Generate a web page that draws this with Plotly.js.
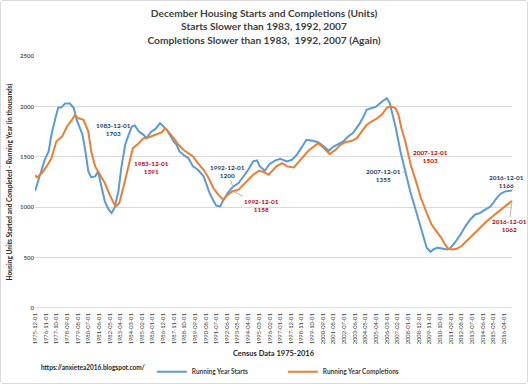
<!DOCTYPE html>
<html>
<head>
<meta charset="utf-8">
<script src="https://cdn.plot.ly/plotly-3.0.1.min.js"></script>
<style>
html,body{margin:0;padding:0;background:#fff;}
#chart{width:526px;height:382px;border:1px solid #d9d9d9;border-radius:3px;}
</style>
</head>
<body>
<div id="chart"></div>
<script>
// Running-year housing starts (thousands)
const startMonths = ['1975-12','1976-05','1976-10','1977-02','1977-05','1977-09','1977-12','1978-03','1978-07','1978-12',
'1979-04','1979-07','1979-10','1980-01','1980-04','1980-07','1980-10','1981-02','1981-05','1981-09',
'1981-12','1982-04','1982-07','1982-10','1983-02','1983-05','1983-09','1983-12','1984-04','1984-07',
'1984-11','1985-04','1985-07','1985-12','1986-04','1986-09','1986-12','1987-04','1987-07','1987-11',
'1988-02','1988-05','1988-09','1989-02','1989-07','1989-12','1990-06','1990-09','1990-12','1991-04',
'1991-07','1991-11','1992-02','1992-07','1992-12','1993-06','1993-11','1994-04','1994-09','1995-01',
'1995-04','1995-09','1996-02','1996-08','1997-01','1997-08','1998-01','1998-06','1998-11','1999-04',
'1999-10','2000-04','2000-10','2001-03','2001-08','2002-01','2002-06','2002-11','2003-04','2003-10',
'2004-03','2004-06','2004-11','2005-04','2005-10','2006-03','2006-06','2006-12','2007-05','2007-10',
'2008-03','2008-08','2009-01','2009-04','2009-08','2009-12','2010-03','2010-07','2010-12','2011-05',
'2011-08','2012-01','2012-07','2012-12','2013-05','2013-10','2014-03','2014-08','2015-02','2015-07',
'2015-12','2016-05','2016-10','2016-12'];
const startUnits = [1160,1320,1470,1555,1720,1885,1990,1990,2030,2030,
1985,1870,1800,1720,1555,1355,1296,1306,1355,1190,
1058,975,942,992,1157,1389,1620,1703,1802,1812,
1752,1719,1686,1752,1775,1835,1802,1769,1719,1653,
1620,1554,1521,1488,1405,1372,1306,1223,1141,1065,
1015,1008,1065,1141,1200,1240,1306,1372,1455,1465,
1405,1362,1430,1465,1481,1455,1471,1521,1594,1670,
1660,1646,1603,1560,1603,1627,1653,1703,1736,1818,
1901,1967,1983,2000,2050,2083,2033,1795,1554,1339,
1157,993,827,712,597,556,579,597,590,579,
590,646,729,812,877,927,942,975,1008,1075,
1131,1157,1163,1166];

// Running-year housing completions (thousands)
const complMonths = ['1975-12','1976-02','1976-07','1976-12','1977-05','1977-10','1978-04','1978-09','1979-02','1979-05',
'1979-09','1980-02','1980-07','1980-10','1981-02','1981-07','1981-12','1982-05','1982-10','1982-12',
'1983-03','1983-07','1983-12','1984-05','1984-11','1985-04','1985-09','1986-05','1986-11','1987-02',
'1987-05','1987-11','1988-04','1988-09','1989-02','1989-07','1989-12','1990-06','1990-11','1991-04',
'1991-09','1992-02','1992-07','1992-12','1993-06','1993-11','1994-04','1994-09','1995-03','1995-08',
'1996-01','1996-06','1996-09','1997-03','1997-08','1998-03','1998-08','1999-01','1999-06','1999-11',
'2000-04','2000-10','2001-04','2001-10','2002-03','2002-08','2003-03','2003-08','2004-01','2004-06',
'2004-11','2005-05','2005-10','2006-03','2006-08','2006-12','2007-03','2007-06','2007-10','2008-01',
'2008-04','2008-09','2009-02','2009-08','2010-01','2010-06','2010-11','2011-03','2011-06','2011-10',
'2012-03','2012-08','2013-01','2013-06','2013-11','2014-05','2014-10','2015-03','2015-08','2016-01',
'2016-07','2016-12'];
const complUnits = [1320,1296,1339,1405,1488,1653,1703,1802,1868,1911,
1884,1868,1752,1554,1405,1322,1240,1124,1025,1010,
1042,1190,1391,1587,1636,1686,1693,1726,1746,1785,
1759,1686,1620,1570,1537,1504,1438,1372,1289,1190,
1124,1075,1124,1158,1174,1223,1263,1322,1362,1349,
1322,1372,1405,1438,1405,1395,1455,1504,1560,1603,
1636,1587,1527,1570,1620,1646,1660,1686,1752,1818,
1851,1884,1924,1990,2000,1983,1917,1785,1653,1521,
1405,1256,1091,942,827,761,695,629,590,579,
586,613,662,712,761,812,860,900,942,983,
1025,1062];

// X tick labels (every 11th month)
const tickLabels = ['1975-12-01','1976-11-01','1977-10-01','1978-09-01','1979-08-01','1980-07-01','1981-06-01','1982-05-01','1983-04-01','1984-03-01',
'1985-02-01','1986-01-01','1986-12-01','1987-11-01','1988-10-01','1989-09-01','1990-08-01','1991-07-01','1992-06-01','1993-05-01',
'1994-04-01','1995-03-01','1996-02-01','1997-01-01','1997-12-01','1998-11-01','1999-10-01','2000-09-01','2001-08-01','2002-07-01',
'2003-06-01','2004-05-01','2005-04-01','2006-03-01','2007-02-01','2008-01-01','2008-12-01','2009-11-01','2010-10-01','2011-09-01',
'2012-08-01','2013-07-01','2014-06-01','2015-05-01','2016-04-01'];
// Y ticks
const yTicks = [0,500,1000,1500,2000,2500];

// Labelled points
const labelDates = ['1983-12-01','1992-12-01','2007-12-01','2016-12-01'];
const labelStarts = [1703,1200,1355,1166];
const labelCompl = [1391,1158,1503,1062];

const FONT = 'Lato, "Open Sans", "Liberation Sans", sans-serif';
const NAVY = '#1F3864', RED = '#C00000', LEADER = '#A6A6A6', GRID = '#D9D9D9';

// placement of the value labels (styles only)
const startPlace = [
  {dx:-15, dy:7, arrow:false},
  {dx:-5, dy:-16, arrow:true},
  {dx:-24, dy:4, arrow:true},
  {dx:-6, dy:9, arrow:false}
];
const complPlace = [
  {dx:23, dy:0, arrow:false},
  {dx:29, dy:14, arrow:true},
  {dx:23, dy:0, arrow:false},
  {dx:-3, dy:25, arrow:true}
];

const annotations = [];
function addLabels(vals, place, color){
  vals.forEach((v, i) => {
    const p = place[i];
    const a = {
      x: labelDates[i], y: v, xref:'x', yref:'y',
      text: '<b>' + labelDates[i] + '</b><br><b>' + v + '</b>',
      font: {family: FONT, size: 6.4, color: color},
      align: 'center'
    };
    if (p.arrow){
      a.showarrow = true; a.ax = p.dx; a.ay = p.dy; a.arrowhead = 0;
      a.arrowwidth = 0.8; a.arrowcolor = LEADER; a.standoff = 0;
    } else {
      a.showarrow = false; a.xshift = p.dx; a.yshift = p.dy;
    }
    annotations.push(a);
  });
}
addLabels(labelStarts, startPlace, NAVY);
addLabels(labelCompl, complPlace, RED);

annotations.push({
  xref:'paper', yref:'paper', x:0.122, y:-0.237, xanchor:'center', yanchor:'middle',
  showarrow:false, text:'<b>https://anxietea2016.blogspot.com/</b>',
  font:{family: FONT, size: 6.5, color:'#262626'}
});

const traces = [
  {x: startMonths, y: startUnits, type:'scatter', mode:'lines', name:'Running Year Starts',
   line:{color:'#5B9BD5', width:2}},
  {x: complMonths, y: complUnits, type:'scatter', mode:'lines', name:'Running Year Completions',
   line:{color:'#ED7D31', width:2}}
];

const layout = {
  width: 526, height: 382,
  margin: {l:34, r:15, t:55, b:75, autoexpand:false},
  paper_bgcolor:'#fff', plot_bgcolor:'#fff',
  title: {
    text: '<b>December Housing Starts and Completions (Units)</b><br><b>Starts Slower than 1983, 1992, 2007</b><br><b>Completions Slower than 1983,  1992, 2007 (Again)</b>',
    font: {family: FONT, size: 10.2, color:'#404040'},
    x: 0.5, xanchor:'center', y: 0.958, yanchor:'top'
  },
  xaxis: {
    type:'date', range:['1975-12-01','2016-12-01'],
    tickmode:'array', tickvals: tickLabels, ticktext: tickLabels,
    tickangle: -90, tickfont:{family: FONT, size:5.8, color:'#404040'},
    ticklabelstandoff: 3,
    showgrid:false, zeroline:false, showline:false, ticks:'', automargin:false,
    title:{text:'<b>Census Data 1975-2016</b>', font:{family: FONT, size:7.5, color:'#262626'}, standoff:7}
  },
  yaxis: {
    range:[-3,2503], tickmode:'array', tickvals: yTicks, ticktext: yTicks.map(String),
    tickfont:{family: FONT, size:6, color:'#595959', weight:700},
    gridcolor: GRID, gridwidth:1, zeroline:false,
    showline:false, ticks:'', automargin:false,
    title:{text:'<b>Housing Units Started and Completed - Running Year (in thousands)</b>',
           font:{family: FONT, size:6.6, color:'#262626'}}
  },
  shapes: [
    {type:'line', xref:'paper', x0:0, x1:1, yref:'y', y0:yTicks[0], y1:yTicks[0],
     line:{color: GRID, width:1}, layer:'below'}
  ],
  legend: {
    orientation:'h', x:0.245, y:-0.253, xanchor:'left', yanchor:'middle',
    font:{family: FONT, size:6.5, color:'#404040', weight:700},
    entrywidth: 86, entrywidthmode:'pixels', bgcolor:'rgba(0,0,0,0)'
  },
  showlegend: true,
  annotations: annotations
};

Plotly.newPlot('chart', traces, layout, {displayModeBar:false, staticPlot:true});
</script>
</body>
</html>
